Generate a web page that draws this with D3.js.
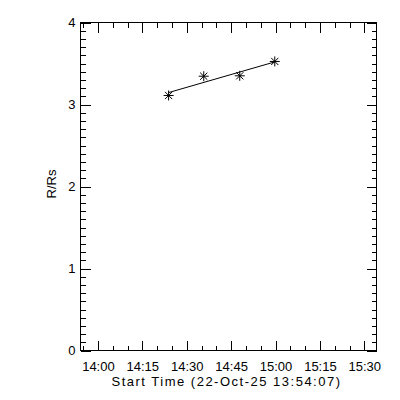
<!DOCTYPE html>
<html>
<head>
<meta charset="utf-8">
<script src="https://cdn.jsdelivr.net/npm/d3@7"></script>
<style>
	body { margin: 0; background: #fff; }
	svg text { font-family: "Liberation Sans", Arial, sans-serif; font-size: 13px; fill: #000; }
	.axis line { stroke: #000; shape-rendering: crispEdges; }
</style>
</head>
<body>
<svg id="chart" width="400" height="400"></svg>
<script>
// time axis runs from the event start time for 100 minutes
const day = "2025-10-22";
const startTime = "13:54:07";
const endTime = "15:34:07";

// observation times and heights (R/Rs)
const obsTimes = ["14:23:53", "14:35:45", "14:47:55", "14:59:45"];
const radii = [3.11, 3.345, 3.35, 3.525];

// tick labels
const xTickLabels = ["14:00", "14:15", "14:30", "14:45", "15:00", "15:15", "15:30"];
const yTickLabels = [0, 1, 2, 3, 4];

const xTitle = "Start Time (22-Oct-25 13:54:07)";
const yTitle = "R/Rs";

const parseTime = d3.utcParse("%Y-%m-%d %H:%M:%S");
const parseTick = d3.utcParse("%Y-%m-%d %H:%M");

// plot frame edges
let fLeft = 80.5, fRight = 376.5, fTop = 22.5, fBottom = 350.5;

const svg = d3.select("#chart");

const x = d3.scaleUtc()
	.domain([parseTime(day + " " + startTime), parseTime(day + " " + endTime)])
	.range([fLeft, fRight]);
const y = d3.scaleLinear()
	.domain([0, 4])
	.range([fBottom, fTop]);

const xMajor = xTickLabels.map(t => parseTick(day + " " + t));
const xMinor = d3.utcMinute.every(5).range(x.domain()[0], x.domain()[1]);
const yMinor = y.ticks(40);

function addAxis(axis, tx, ty) {
	const g = svg.append("g")
		.attr("class", "axis")
		.attr("transform", "translate(" + tx + "," + ty + ")")
		.call(axis);
	g.select(".domain").remove();
	return g;
}

// bottom: labelled major ticks plus 5 minute minors, all pointing in
addAxis(d3.axisBottom(x).tickValues(xMajor).tickFormat(d3.utcFormat("%H:%M"))
	.tickSizeInner(-10).tickSizeOuter(0).tickPadding(11), 0, fBottom);
addAxis(d3.axisBottom(x).tickValues(xMinor).tickFormat("")
	.tickSizeInner(-5).tickSizeOuter(0), 0, fBottom);
// top mirror
addAxis(d3.axisTop(x).tickValues(xMajor).tickFormat("")
	.tickSizeInner(-10).tickSizeOuter(0), 0, fTop);
addAxis(d3.axisTop(x).tickValues(xMinor).tickFormat("")
	.tickSizeInner(-5).tickSizeOuter(0), 0, fTop);

// left
addAxis(d3.axisLeft(y).tickValues(yTickLabels).tickFormat(d3.format("d"))
	.tickSizeInner(-10).tickSizeOuter(0).tickPadding(5), fLeft, 0);
addAxis(d3.axisLeft(y).tickValues(yMinor).tickFormat("")
	.tickSizeInner(-5).tickSizeOuter(0), fLeft, 0);
// right mirror
addAxis(d3.axisRight(y).tickValues(yTickLabels).tickFormat("")
	.tickSizeInner(-10).tickSizeOuter(0), fRight, 0);
addAxis(d3.axisRight(y).tickValues(yMinor).tickFormat("")
	.tickSizeInner(-5).tickSizeOuter(0), fRight, 0);

// frame
svg.append("rect")
	.attr("x", fLeft).attr("y", fTop)
	.attr("width", fRight - fLeft).attr("height", fBottom - fTop)
	.attr("fill", "none").attr("stroke", "#000")
	.attr("shape-rendering", "crispEdges");

// titles
svg.append("text")
	.attr("x", (fLeft + fRight) / 2 - 2)
	.attr("y", 386)
	.attr("text-anchor", "middle")
	.style("letter-spacing", "1.5px")
	.text(xTitle);

svg.append("text")
	.attr("transform", "translate(56,184) rotate(-90)")
	.attr("text-anchor", "middle")
	.text(yTitle);

// data points
const points = obsTimes.map((t, i) => ({
	t: parseTime(day + " " + t),
	r: radii[i]
}));

// least squares straight line through the points
let mx = d3.mean(points, d => +d.t);
let my = d3.mean(points, d => d.r);
let sxy = d3.sum(points, d => (+d.t - mx) * (d.r - my));
let sxx = d3.sum(points, d => (+d.t - mx) * (+d.t - mx));
let slope = sxy / sxx;
const fit = t => my + slope * (+t - mx);

const tEnds = d3.extent(points, d => d.t);
svg.append("path")
	.datum(tEnds)
	.attr("fill", "none")
	.attr("stroke", "#000")
	.attr("stroke-width", 1)
	.attr("d", d3.line().x(t => x(t)).y(t => y(fit(t))));

// IDL style asterisks
const star = "M-5,0H5M0,-5V5M-3.6,-3.6L3.6,3.6M-3.6,3.6L3.6,-3.6";
svg.selectAll(".pt")
	.data(points)
	.enter().append("path")
	.attr("class", "pt")
	.attr("transform", d => "translate(" + x(d.t) + "," + y(d.r) + ")")
	.attr("d", star)
	.attr("fill", "none")
	.attr("stroke", "#000")
	.attr("stroke-width", 1);
</script>
</body>
</html>
